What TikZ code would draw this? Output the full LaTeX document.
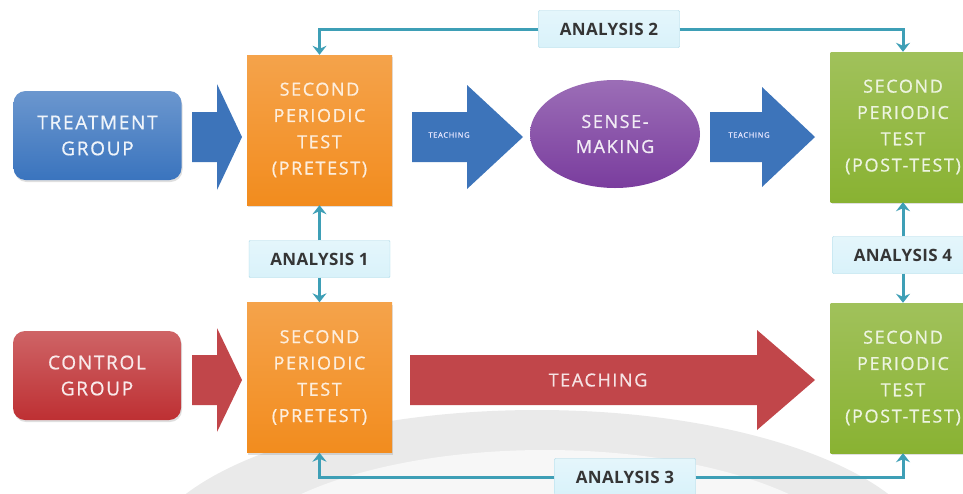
\documentclass[tikz,border=0pt]{standalone}
\usepackage{fontspec}
\setmainfont{Open Sans}[LetterSpace=9,FakeBold=0.8,BoldFeatures={LetterSpace=2,FakeBold=0}]
\usepackage{tikz}
\usetikzlibrary{shadows}
\usetikzlibrary{positioning}
\usetikzlibrary{arrows.meta,shapes}
\usetikzlibrary{calc}

\definecolor{grpblue}{HTML}{3A74BE}
\definecolor{grpred}{HTML}{BE3033}
\definecolor{preorange}{HTML}{F28C1E}
\definecolor{postgreen}{HTML}{89B232}
\definecolor{sensepurple}{HTML}{7A3D9E}
\definecolor{arrblue}{HTML}{3D74BA}
\definecolor{arrred}{HTML}{C1464A}
\definecolor{anafill}{HTML}{D9F2FA}
\definecolor{anaedge}{HTML}{A6D6E6}
\definecolor{anatext}{HTML}{353535}
\definecolor{linkcol}{HTML}{3E9FB6}
\definecolor{wmark}{HTML}{EAEAEA}

\tikzstyle{groupbox}=[rounded corners=12pt,minimum width=168pt,minimum height=89pt,inner sep=0pt,align=center,font=\fontsize{19}{26}\selectfont,drop shadow={opacity=0.25,shadow xshift=1pt,shadow yshift=-2pt}]
\tikzstyle{testbox}=[minimum width=145pt,minimum height=150pt,inner sep=0pt,align=center,font=\fontsize{18}{26.3}\selectfont,drop shadow={opacity=0.25,shadow xshift=1pt,shadow yshift=-2pt}]
\tikzstyle{analysis}=[draw=anaedge,top color=anafill!70!white,bottom color=anafill,rounded corners=1pt,minimum width=141pt,minimum height=37pt,inner sep=0pt,text=anatext,font=\bfseries\fontsize{17}{17}\selectfont]
\tikzstyle{link}=[draw=linkcol,line width=3pt,-{Stealth[length=9pt,width=14pt,inset=3pt]}]
\tikzstyle{smallteach}=[text=blue!10!white,font=\fontsize{7.5}{7.5}\selectfont]

\begin{document}
\begin{tikzpicture}[x=1pt,y=-1pt]
    \path[use as bounding box,clip] (0,0) rectangle (963,493);

    % faint round mark behind the lower row
    \fill[wmark] (537,565) ellipse [x radius=395, y radius=155];
    \fill[white!60!wmark] (545,575) ellipse [x radius=320, y radius=125];

    % the two groups
    \node[groupbox,top color=grpblue!75!white,bottom color=grpblue,text=white!92!grpblue] (treat) at (97.5,135.5) {TREATMENT\\GROUP};
    \node[groupbox,top color=grpred!75!white,bottom color=grpred,text=white!90!grpred] (ctrl) at (97,375.5) {CONTROL\\GROUP};

    % the four tests
    \foreach \pos/\name/\col/\label in {{(319.5,130)/topPre/preorange/PRETEST}, {(319.5,377.5)/lowPre/preorange/PRETEST}, {(903,127)/topPost/postgreen/POST-TEST}, {(903,378)/lowPost/postgreen/POST-TEST}}
        \node[testbox,top color=\col!80!white,bottom color=\col,text=\col!15!white] (\name) at \pos {SECOND\\PERIODIC\\TEST\\(\label)};

    \node[ellipse,minimum width=170pt,minimum height=108pt,inner sep=0pt,align=center,
          top color=sensepurple!75!white,bottom color=sensepurple,text=white!90!sensepurple,
          font=\fontsize{18}{25}\selectfont] (sense) at (615,134) {SENSE-\\MAKING};

    % block arrows
    \foreach \xa/\xb/\xc/\yc/\ht/\col in {192/217/242/137/53/arrblue, 412/467/523/137/52/arrblue, 710/762/815/137/50/arrblue, 192/217/242/380/52/arrred, 410/757/815/380/50/arrred}
        \fill[\col] (\xa,\yc-25) -- (\xb,\yc-25) -- (\xb,\yc-\ht) -- (\xc,\yc) -- (\xb,\yc+\ht) -- (\xb,\yc+25) -- (\xa,\yc+25) -- cycle;

    \node[smallteach] (teachA) at (449,135) {TEACHING};
    \node[smallteach] (teachB) at (749,135) {TEACHING};
    \node[text=white!85!arrred,font=\fontsize{18}{18}\selectfont] (teachC) at (598,380) {TEACHING};

    % analysis labels
    \node[analysis] (an1) at (319.5,259) {ANALYSIS 1};
    \node[analysis] (an2) at (609,29) {ANALYSIS 2};
    \node[analysis] (an3) at (625,477) {ANALYSIS 3};
    \node[analysis] (an4) at (903,255) {ANALYSIS 4};

    % connect the labels with the tests
    \draw[link] (an1.north) -- (topPre.south);
    \draw[link] (an1.south) -- (lowPre.north);
    \draw[link] (an4.north) -- (topPost.south);
    \draw[link] (an4.south) -- (lowPost.north);
    \draw[link] (an2.west) -| (topPre.north);
    \draw[link] (an2.east) -| (topPost.north);
    \draw[link] (an3.west) -| (lowPre.south);
    \draw[link] (an3.east) -| (lowPost.south);

\end{tikzpicture}
\end{document}
